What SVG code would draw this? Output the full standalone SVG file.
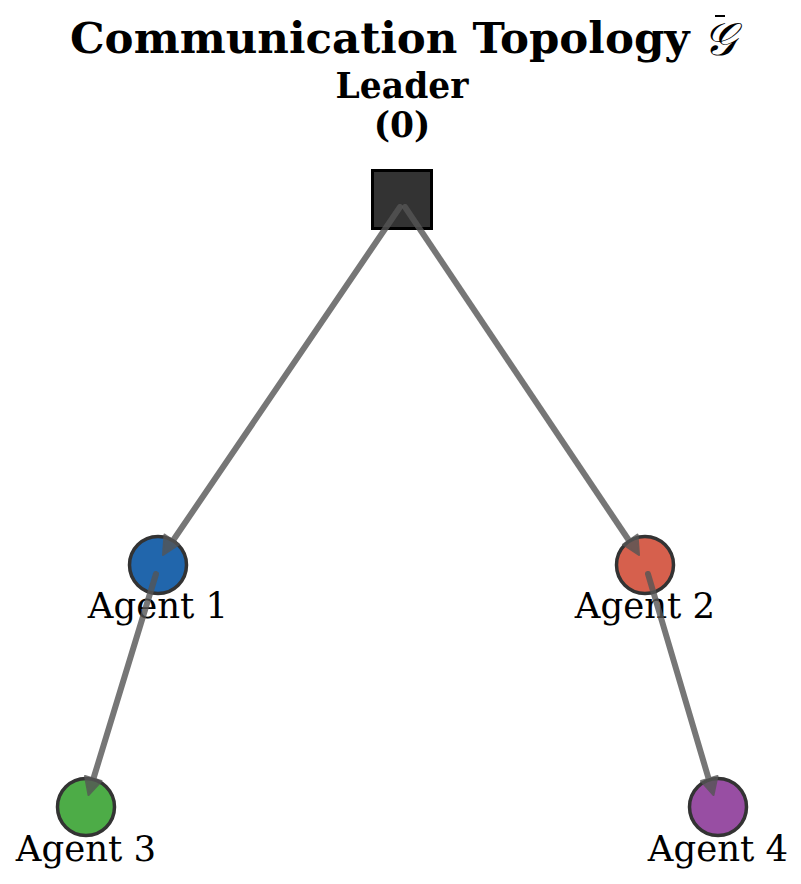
<svg xmlns="http://www.w3.org/2000/svg" width="801" height="884" viewBox="0 0 801 884">
<style>
.title{font-family:"DejaVu Serif","Liberation Serif",serif;font-weight:bold;font-size:43.5px;fill:#000}
.lead{font-family:"DejaVu Serif","Liberation Serif",serif;font-weight:bold;font-size:34.5px;fill:#000}
.lbl{font-family:"DejaVu Serif","Liberation Serif",serif;font-size:35.5px;fill:#000}
.agent{stroke:#333;stroke-width:3.5}
.edge{opacity:0.8}
.edge line{stroke:#555;stroke-width:6;stroke-linecap:round}
.edge path{fill:#555;stroke:#555;stroke-width:2;stroke-linejoin:round}
</style>
<rect width="801" height="884" fill="#fff"/>
<text class="title" x="70" y="52.5">Communication Topology</text>
<text x="703" y="55" font-family="DejaVu Serif, Liberation Serif, serif" font-style="italic" font-size="46px">𝒢</text>
<line x1="715" y1="16" x2="725" y2="16" stroke="#000" stroke-width="2"/>
<g id="leader">
<rect x="372.5" y="170.5" width="59" height="58" fill="#333" stroke="#000" stroke-width="3"/>
<text class="lead" x="402" y="98" text-anchor="middle">Leader</text>
<text class="lead" x="402" y="137" text-anchor="middle">(0)</text>
</g>
<g id="agent1">
<circle class="agent" cx="158" cy="565" r="28.5" fill="#2166ac"/>
<text class="lbl" x="158" y="618" text-anchor="middle">Agent 1</text>
</g>
<g id="agent2">
<circle class="agent" cx="645" cy="565" r="28.5" fill="#d6604d"/>
<text class="lbl" x="645" y="618" text-anchor="middle">Agent 2</text>
</g>
<g id="agent3">
<circle class="agent" cx="86" cy="807" r="28.5" fill="#4dac47"/>
<text class="lbl" x="86" y="861" text-anchor="middle">Agent 3</text>
</g>
<g id="agent4">
<circle class="agent" cx="718" cy="807" r="28.5" fill="#984ea3"/>
<text class="lbl" x="718" y="861" text-anchor="middle">Agent 4</text>
</g>
<g id="connectors">
<g class="edge"><line x1="400" y1="207" x2="172" y2="542"/><path d="M163,555 L164.5,534.5 L179,544.5 Z"/></g>
<g class="edge"><line x1="405" y1="207" x2="630" y2="542"/><path d="M639,555 L623,544.5 L637.5,534.5 Z"/></g>
<g class="edge"><line x1="156" y1="574" x2="93" y2="780"/><path d="M88.5,795 L85,776 L101.5,781 Z"/></g>
<g class="edge"><line x1="648" y1="574" x2="709" y2="780"/><path d="M713.5,795 L701,781 L717.5,776 Z"/></g>
</g>
</svg>
